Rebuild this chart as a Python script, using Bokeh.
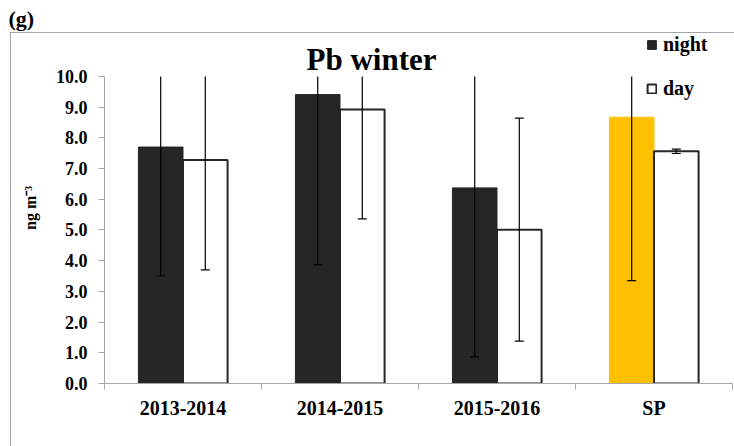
from bokeh.plotting import figure
from bokeh.models import (
    ColumnDataSource,
    FixedTicker,
    NumeralTickFormatter,
    Range1d,
    Label,
    Legend,
    LegendItem,
    InlineStyleSheet,
)
from bokeh.embed import file_html
from bokeh.resources import INLINE

# values (ng m-3)
periods = ["2013-2014", "2014-2015", "2015-2016", "SP"]
night_mean = [7.70, 9.41, 6.37, 8.67]
night_err = [4.20, 5.55, 5.50, 5.32]
day_mean = [7.28, 8.92, 5.01, 7.56]
day_err = [3.58, 3.56, 3.63, 0.07]
night_colors = ["#262626", "#262626", "#262626", "#FFC000"]
y_ticks = [0, 1, 2, 3, 4, 5, 6, 7, 8, 9, 10]

FONT = "Liberation Serif"
GREY = "#a6a6a6"
DARK = "#262626"
BAR_W = 0.284
SHIFT = 0.142
Y_MAX = y_ticks[-1]
Y_TOP = 11.43  # frame reaches up to the chart border; axis stops at 10

W, H = 734, 446

centers = [i + 0.5 for i in range(len(periods))]


def _bars_source(means, errs, shift):
    hi = [m + e for m, e in zip(means, errs)]
    return ColumnDataSource(data=dict(
        x=[c + shift for c in centers],
        top=means,
        lo=[m - e for m, e in zip(means, errs)],
        hi=[min(h, Y_MAX) for h in hi],
        cap=[h if h <= Y_MAX else float("nan") for h in hi],
    ))


src_night = _bars_source(night_mean, night_err, -SHIFT)
src_night.data["color"] = night_colors
src_day = _bars_source(day_mean, day_err, SHIFT)

border_css = InlineStyleSheet(css="""
:host { position: relative; }
:host::after {
  content: ""; position: absolute; left: 10px; top: 32px; right: 0; bottom: 0;
  border-left: 1px solid #a6a6a6; border-top: 1px solid #a6a6a6;
  pointer-events: none;
}
""")

p = figure(
    width=W, height=H,
    x_range=Range1d(0, len(periods)),
    y_range=Range1d(0, Y_TOP),
    output_backend="svg",
    toolbar_location=None,
    tools="",
    min_border_left=104, min_border_right=2,
    min_border_top=32, min_border_bottom=63,
    background_fill_color="white",
    border_fill_color="white",
    outline_line_color=None,
    title="(g)",
    stylesheets=[border_css],
)
p.xgrid.visible = False
p.ygrid.visible = False

p.title.align = "left"
p.title.offset = -96
p.title.standoff = 4
p.title.text_font = FONT
p.title.text_font_style = "bold"
p.title.text_font_size = "22px"
p.title.text_color = "black"

r_night = p.vbar(x="x", top="top", width=BAR_W, bottom=0, source=src_night,
                 fill_color="color", line_color="color", line_width=1)
r_day = p.vbar(x="x", top="top", width=BAR_W, bottom=0, source=src_day,
               fill_color="white", line_color=DARK, line_width=2)

# error bars, cut at the top of the value axis as in the original
for src in (src_night, src_day):
    p.segment("x", "lo", "x", "hi", source=src, line_color="black", line_width=1.2)
    p.scatter("x", "lo", source=src, marker="dash", size=9, line_color="black", line_width=1.2)
    p.scatter("x", "cap", source=src, marker="dash", size=9, line_color="black", line_width=1.2)

# axes
p.xaxis.ticker = FixedTicker(ticks=centers, minor_ticks=list(range(len(periods) + 1)))
p.xaxis.major_label_overrides = {c: lab for c, lab in zip(centers, periods)}
p.xaxis.major_tick_line_color = None
p.xaxis.major_tick_out = 0
p.xaxis.minor_tick_line_color = GREY
p.xaxis.minor_tick_out = 6
p.xaxis.minor_tick_in = 0
p.xaxis.major_label_standoff = 7
p.xaxis.major_label_text_font_size = "20px"

p.yaxis.ticker = FixedTicker(ticks=y_ticks)
p.yaxis.bounds = (0, Y_MAX)
p.yaxis.formatter = NumeralTickFormatter(format="0.0")
p.yaxis.major_tick_out = 6
p.yaxis.major_tick_in = 0
p.yaxis.minor_tick_line_color = None
p.yaxis.major_tick_line_color = GREY
p.yaxis.major_label_standoff = 11
p.yaxis.major_label_text_font_size = "18px"
p.yaxis.axis_label = "ng m\u207b\u00b3"
p.yaxis.axis_label_text_font = FONT
p.yaxis.axis_label_text_font_style = "bold"
p.yaxis.axis_label_text_font_size = "16px"
p.yaxis.axis_label_text_color = "black"
p.yaxis.axis_label_standoff = 14

p.axis.axis_line_color = GREY
p.axis.major_label_text_font = FONT
p.axis.major_label_text_font_style = "bold"
p.axis.major_label_text_color = "black"

p.add_layout(Label(x=267, y=324, x_units="screen", y_units="screen", text="Pb winter",
                   text_font=FONT, text_font_style="bold", text_font_size="31px",
                   text_color="black", text_align="center", text_baseline="alphabetic"))

legend = Legend(
    items=[LegendItem(label="night", renderers=[r_night], index=0),
           LegendItem(label="day", renderers=[r_day])],
    location=(542, 283),
    padding=0, margin=0, spacing=21,
    glyph_width=11, glyph_height=11, label_height=21, label_standoff=6,
    label_text_font=FONT, label_text_font_style="bold", label_text_font_size="20px",
    label_text_color="black",
    border_line_color=None, background_fill_alpha=0,
)
p.add_layout(legend)

open("out.html", "w").write(file_html(p, INLINE))
